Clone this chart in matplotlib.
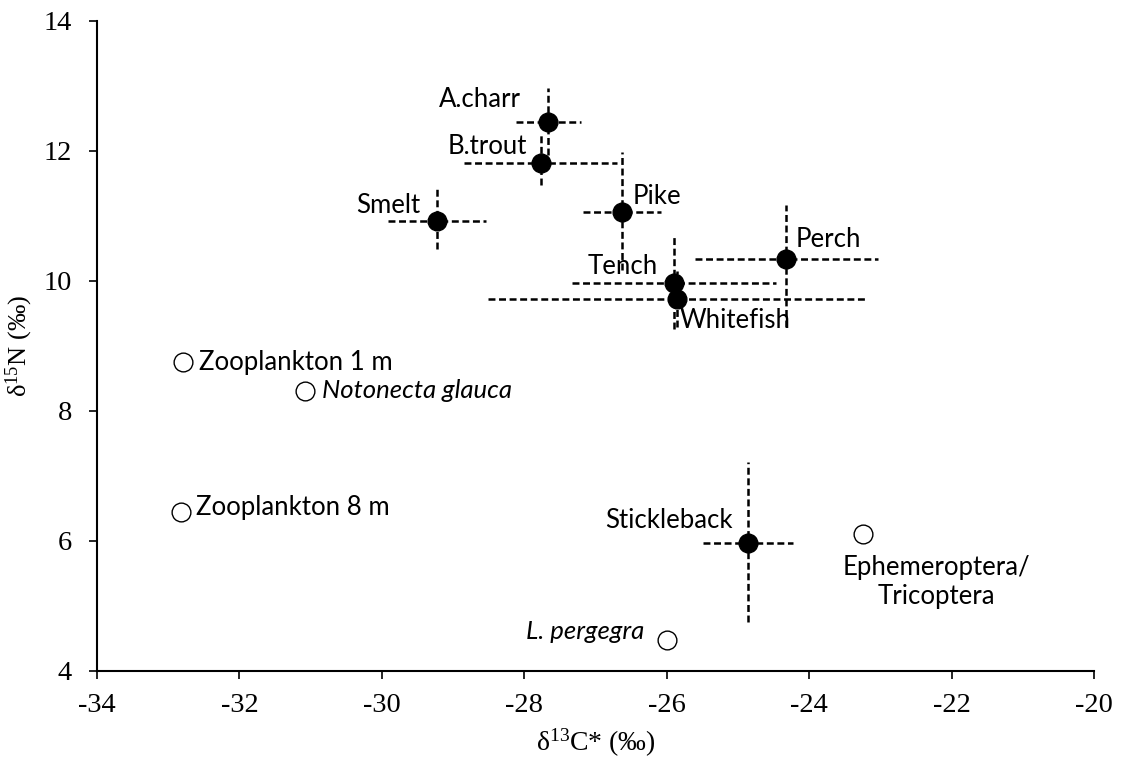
import matplotlib
matplotlib.use("Agg")
import matplotlib.pyplot as plt

plt.rcParams['lines.scale_dashes'] = False
plt.rcParams['mathtext.fontset'] = 'custom'
plt.rcParams['mathtext.rm'] = 'Liberation Serif'
plt.rcParams['mathtext.it'] = 'Liberation Serif:italic'

# Fish (filled, with error bars)
fish_names = ['A.charr', 'B.trout', 'Smelt', 'Pike', 'Perch', 'Tench', 'Whitefish', 'Stickleback']
fish_x = [-27.66, -27.77, -29.23, -26.63, -24.32, -25.90, -25.86, -24.86]
fish_y = [12.45, 11.82, 10.92, 11.06, 10.34, 9.97, 9.72, 5.97]
fish_xerr = [0.46, 1.07, 0.69, 0.55, 1.28, 1.43, 2.65, 0.63]
fish_yerr_low = [0.51, 0.34, 0.42, 0.89, 1.05, 0.71, 0.43, 1.22]
fish_yerr_high = [0.52, 0.43, 0.49, 0.92, 0.83, 0.71, 0.43, 1.25]
fish_label_offset = [(-20, 16), (-10, 12), (-12, 11.5), (8, 11.5), (7, 14), (-11.5, 12), (2, -15), (-11, 16)]
fish_label_ha = ['right', 'right', 'right', 'left', 'left', 'right', 'left', 'right']

# Prey (open circles)
prey_names = ['Zooplankton 1 m', 'Notonecta glauca', 'Zooplankton 8 m', 'Ephemeroptera/\nTricoptera', 'L. pergegra']
prey_x = [-32.79, -31.08, -32.82, -23.25, -26.00]
prey_y = [8.75, 8.31, 6.45, 6.11, 4.48]
prey_label_offset = [(11.5, 0), (12, 0), (11, 3), (53, -35), (-16, 6)]
prey_label_ha = ['left', 'left', 'left', 'center', 'right']
prey_label_style = ['normal', 'italic', 'normal', 'normal', 'italic']

x_ticks = [-34, -32, -30, -28, -26, -24, -22, -20]
y_ticks = [4, 6, 8, 10, 12, 14]

fig = plt.figure(figsize=(11.27, 7.59), dpi=100)
ax = fig.add_axes([97/1127, 1 - 671/759, (1094 - 97)/1127, (671 - 21)/759])

eb = ax.errorbar(fish_x, fish_y, xerr=fish_xerr, yerr=[fish_yerr_low, fish_yerr_high],
                 fmt='o', color='black', markersize=13.5, elinewidth=1.8, capsize=0, zorder=3)
for lc in eb[2]:
    lc.set_linestyle((0, (5, 2.6)))

ax.plot(prey_x, prey_y, 'o', markerfacecolor='white', markeredgecolor='black',
        markersize=13.5, markeredgewidth=1.0, linestyle='none', zorder=4)

label_font = 'Lato'
fs_lab = 18.5
for n, x, y, off, ha in zip(fish_names, fish_x, fish_y, fish_label_offset, fish_label_ha):
    ax.annotate(n, (x, y), xytext=off, textcoords='offset points', ha=ha, va='center',
                fontsize=fs_lab, family=label_font, zorder=5)
for n, x, y, off, ha, st in zip(prey_names, prey_x, prey_y, prey_label_offset, prey_label_ha, prey_label_style):
    ax.annotate(n, (x, y), xytext=off, textcoords='offset points', ha=ha, va='center',
                fontsize=fs_lab, family=label_font, style=st, multialignment='center',
                linespacing=1.2, zorder=5)

ax.set_xlim(-34, -20)
ax.set_ylim(4, 14)
ax.set_xticks(x_ticks)
ax.set_yticks(y_ticks)
ax.set_xticklabels([str(t) for t in x_ticks])
ax.set_yticklabels([str(t) for t in y_ticks])
for sp in ['top', 'right']:
    ax.spines[sp].set_visible(False)
for sp in ['left', 'bottom']:
    ax.spines[sp].set_linewidth(1.5)
ax.tick_params(axis='both', direction='out', length=6, width=1.2, labelsize=20.5)
ax.tick_params(axis='x', pad=10)
ax.tick_params(axis='y', pad=12)
for lab in ax.get_xticklabels() + ax.get_yticklabels():
    lab.set_family('Liberation Serif')

ax.set_xlabel(r'δ$^{13}$C* (‰)', fontsize=20, family='Liberation Serif', labelpad=6)
ax.set_ylabel(r'δ$^{15}$N (‰)', fontsize=19, family='Liberation Serif', labelpad=6)

fig.savefig('out.png', dpi=100)
